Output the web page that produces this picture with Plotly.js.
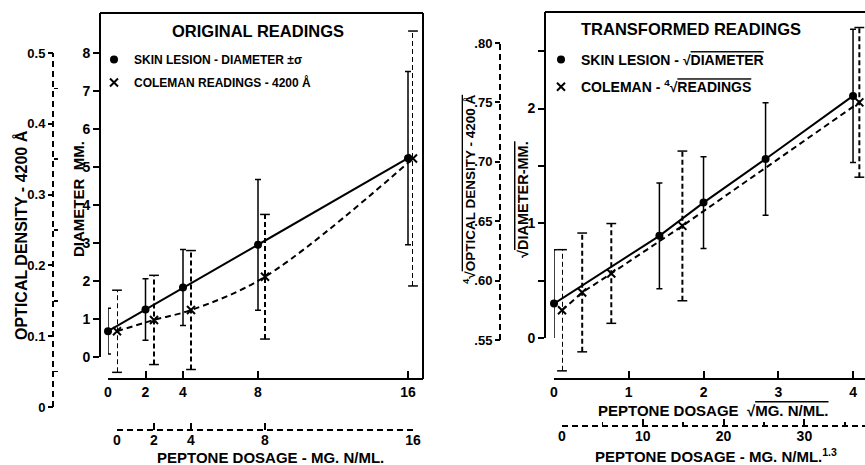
<!DOCTYPE html>
<html>
<head>
<meta charset="utf-8">
<script src="https://cdn.plot.ly/plotly-3.0.1.min.js"></script>
<style>html,body{margin:0;padding:0;background:#fff;}#chart{width:865px;height:465px;}</style>
</head>
<body>
<div id="chart"></div>
<script>
// ---------- DATA ----------
// Left panel: original readings
const doseTicks = [0, 2, 4, 8, 16];
const skinDose = [0, 2, 4, 8, 16];
const skinDiam = [0.68, 1.25, 1.83, 2.95, 5.23];
const skinDiamSd = [0.60, 0.81, 1.00, 1.72, 2.28];
const colemanDose = [0, 2, 4, 8, 16];
const colemanOD = [0.107, 0.123, 0.137, 0.184, 0.351];
const colemanODSd = [0.058, 0.063, 0.084, 0.088, 0.180];
const diamTicks = [0, 1, 2, 3, 4, 5, 6, 7, 8];
const odTicks = [0, 0.1, 0.2, 0.3, 0.4, 0.5];
const odTickText = ['0', '0.1', '0.2', '0.3', '0.4', '0.5'];
const odMinor = [0.05, 0.15, 0.25, 0.35, 0.45];

// Right panel: transformed readings
const sqrtDose = [0, 1.41, 2, 2.83, 4];
const sqrtDiam = [0.30, 0.89, 1.18, 1.56, 2.11];
const sqrtDiamSd = [0.47, 0.46, 0.40, 0.49, 0.58];
const dosePow = [0, 2.5, 6.1, 14.9, 36.8];
const rootOD = [0.575, 0.590, 0.606, 0.646, 0.750];
const rootODSd = [0.051, 0.050, 0.042, 0.063, 0.063];
const sqrtDoseTicks = [0, 1, 2, 3, 4];
const powTicks = [0, 10, 20, 30];
const powMinor = [5, 15, 25, 35];
const sqrtDiamTicks = [0, 1, 2];
const sqrtDiamMinor = [0.5, 1.5, 2.5];
const rootODTicks = [0.55, 0.60, 0.65, 0.70, 0.75, 0.80];
const rootODTickText = ['.55', '.60', '.65', '.70', '.75', '.80'];

// ---------- helpers ----------
const W = 865, H = 465;
const px = v => v / W;
const py = v => 1 - v / H;
const K = '#000';
const OL = s => '<span style="text-decoration:overline">' + s + '</span>';

function errSegments(xs, ys, es) {
  const X = [], Y = [];
  xs.forEach((x, i) => { X.push(x, x, null); Y.push(ys[i] - es[i], ys[i] + es[i], null); });
  return {X, Y};
}
const segL = errSegments(colemanDose, colemanOD, colemanODSd);
const segR = errSegments(dosePow, rootOD, rootODSd);

const dashLine = {color: K, width: 2, dash: '6px,4px'};
const errDash = {color: K, width: 2, dash: '5px,3px'};
const capMarker = {symbol: 'line-ew', size: 7, color: K, line: {width: 1.5, color: K}};
const dotMarker = {symbol: 'circle', size: 8, color: K};
const xMarker = {symbol: 'x-thin', size: 8, color: K, line: {width: 2, color: K}};
const solidErr = arr => ({type: 'data', array: arr, visible: true, color: K, thickness: 1.5, width: 3});

const traces = [
  // left: skin lesion
  {x: skinDose, y: skinDiam, mode: 'lines', line: {color: K, width: 2}, xaxis: 'x', yaxis: 'y', showlegend: false, cliponaxis: false, hoverinfo: 'skip'},
  {x: skinDose, y: skinDiam, mode: 'markers', marker: dotMarker, error_y: solidErr(skinDiamSd), xaxis: 'x', yaxis: 'y',
   name: 'SKIN LESION - DIAMETER ±σ', legend: 'legend', legendgroup: 'a', cliponaxis: false},
  // left: coleman
  {x: colemanDose, y: colemanOD, mode: 'lines', line: Object.assign({shape: 'spline', smoothing: 1}, dashLine), xaxis: 'x2', yaxis: 'y2', showlegend: false, cliponaxis: false, hoverinfo: 'skip'},
  {x: segL.X, y: segL.Y, mode: 'lines+markers', line: errDash, marker: capMarker, connectgaps: false,
   xaxis: 'x2', yaxis: 'y2', showlegend: false, cliponaxis: false, hoverinfo: 'skip'},
  {x: colemanDose, y: colemanOD, mode: 'markers', marker: xMarker, xaxis: 'x2', yaxis: 'y2',
   name: 'COLEMAN READINGS - 4200 Å', legend: 'legend', legendgroup: 'b', cliponaxis: false},
  // right: skin lesion
  {x: sqrtDose, y: sqrtDiam, mode: 'lines', line: {color: K, width: 2}, xaxis: 'x3', yaxis: 'y3', showlegend: false, cliponaxis: false, hoverinfo: 'skip'},
  {x: sqrtDose, y: sqrtDiam, mode: 'markers', marker: dotMarker, error_y: solidErr(sqrtDiamSd), xaxis: 'x3', yaxis: 'y3',
   name: 'SKIN LESION - √' + OL('DIAMETER'), legend: 'legend2', legendgroup: 'c', cliponaxis: false},
  // right: coleman
  {x: dosePow, y: rootOD, mode: 'lines', line: dashLine, xaxis: 'x4', yaxis: 'y4', showlegend: false, cliponaxis: false, hoverinfo: 'skip'},
  {x: segR.X, y: segR.Y, mode: 'lines+markers', line: errDash, marker: capMarker, connectgaps: false,
   xaxis: 'x4', yaxis: 'y4', showlegend: false, cliponaxis: false, hoverinfo: 'skip'},
  {x: dosePow, y: rootOD, mode: 'markers', marker: xMarker, xaxis: 'x4', yaxis: 'y4',
   name: 'COLEMAN - <sup>4</sup>√' + OL('READINGS'), legend: 'legend2', legendgroup: 'd', cliponaxis: false}
];

const axBase = {showgrid: false, zeroline: false, color: K, linecolor: K, tickcolor: K, tickwidth: 2, tickfont: {size: 14, color: K}, fixedrange: true};
const ax = o => Object.assign({}, axBase, o);

const layout = {
  width: W, height: H,
  margin: {l: 0, r: 0, t: 0, b: 0},
  paper_bgcolor: '#fff', plot_bgcolor: 'rgba(0,0,0,0)',
  font: {family: 'Liberation Sans, Arial, sans-serif', size: 14, color: K, weight: 700},
  showlegend: true,
  xaxis: ax({domain: [px(108), px(423)], range: [0, 16.8], anchor: 'free', position: py(379),
    showline: true, linewidth: 2, ticks: 'inside', ticklen: 7, tickvals: doseTicks}),
  yaxis: ax({domain: [py(357), py(13)], range: [0, 9.05], anchor: 'free', position: px(100),
    showline: true, linewidth: 2, ticks: 'outside', ticklen: 6, tickvals: diamTicks}),
  xaxis2: ax({domain: [px(117), px(413)], range: [0, 16], anchor: 'free', position: py(430),
    showline: false, ticks: 'inside', ticklen: 7, tickvals: doseTicks}),
  yaxis2: ax({domain: [py(421.2), py(10.5)], range: [-0.02, 0.56], anchor: 'free', position: px(53),
    showline: false, ticks: 'outside', ticklen: 5, tickvals: odTicks, ticktext: odTickText, tickfont: {size: 13, color: K},
    minor: {tickvals: odMinor, ticks: 'inside', ticklen: 4, tickwidth: 1.5, tickcolor: K}}),
  xaxis3: ax({domain: [px(554), 1], range: [0, 4.16], anchor: 'free', position: py(379),
    showline: true, linewidth: 2, ticks: 'inside', ticklen: 7, tickvals: sqrtDoseTicks}),
  yaxis3: ax({domain: [py(338), py(12)], range: [0, 2.841], anchor: 'free', position: px(545),
    showline: true, linewidth: 2, ticks: 'outside', ticklen: 6, tickvals: sqrtDiamTicks,
    minor: {tickvals: sqrtDiamMinor, ticks: 'outside', ticklen: 6, tickwidth: 2, tickcolor: K}}),
  xaxis4: ax({domain: [px(562), 1], range: [0, 37.5], anchor: 'free', position: py(426),
    showline: false, ticks: 'inside', ticklen: 7, tickvals: powTicks,
    minor: {tickvals: powMinor, ticks: 'inside', ticklen: 4, tickwidth: 1.5, tickcolor: K}}),
  yaxis4: ax({domain: [py(375.6), py(19.2)], range: [0.52, 0.82], anchor: 'free', position: px(500),
    showline: false, ticks: 'outside', ticklen: 5, tickvals: rootODTicks, ticktext: rootODTickText, tickfont: {size: 13, color: K}}),
  legend: {x: px(94), y: py(45), xanchor: 'left', yanchor: 'top', bgcolor: 'rgba(0,0,0,0)', borderwidth: 0,
    font: {size: 12, color: K, weight: 700}, tracegroupgap: 4, traceorder: 'grouped'},
  legend2: {x: px(541), y: py(44), xanchor: 'left', yanchor: 'top', bgcolor: 'rgba(0,0,0,0)', borderwidth: 0,
    font: {size: 14, color: K, weight: 700}, tracegroupgap: 6, traceorder: 'grouped'},
  shapes: [
    {type: 'line', xref: 'paper', yref: 'paper', x0: px(100), x1: px(423), y0: py(13), y1: py(13), line: {color: K, width: 2}},
    {type: 'line', xref: 'paper', yref: 'paper', x0: px(423), x1: px(423), y0: py(13), y1: py(379), line: {color: K, width: 2}},
    {type: 'line', xref: 'paper', yref: 'paper', x0: px(545), x1: 1, y0: py(12), y1: py(12), line: {color: K, width: 2}},
    {type: 'line', xref: 'paper', yref: 'y2', x0: px(53), x1: px(53), y0: odTicks[0], y1: odTicks[odTicks.length - 1], line: dashLine},
    {type: 'line', xref: 'x2', yref: 'paper', x0: doseTicks[0], x1: doseTicks[doseTicks.length - 1], y0: py(430), y1: py(430), line: dashLine},
    {type: 'line', xref: 'paper', yref: 'y4', x0: px(500), x1: px(500), y0: rootODTicks[0], y1: rootODTicks[rootODTicks.length - 1], line: dashLine},
    {type: 'line', xref: 'x4', yref: 'paper', x0: 0, x1: 37.5, y0: py(426), y1: py(426), line: dashLine}
  ],
  annotations: [
    {text: 'ORIGINAL READINGS', x: px(258), y: py(31), font: {size: 16.5}},
    {text: 'TRANSFORMED READINGS', x: px(691), y: py(29), font: {size: 16.5}},
    {text: 'DIAMETER  MM.', x: px(78), y: py(199), textangle: -90, font: {size: 15}},
    {text: 'OPTICAL DENSITY - 4200 Å', x: px(21), y: py(235), textangle: -90, font: {size: 16}},
    {text: 'PEPTONE DOSAGE - MG. N/ML.', x: px(270), y: py(457), font: {size: 15}},
    {text: 'PEPTONE DOSAGE  √' + OL('MG. N/ML.'), x: px(713), y: py(410), font: {size: 15}},
    {text: 'PEPTONE DOSAGE - MG. N/ML.<sup>1.3</sup>', x: px(716), y: py(455), font: {size: 15}},
    {text: '√' + OL('DIAMETER-MM.'), x: px(523), y: py(200), textangle: -90, font: {size: 14.5}},
    {text: '<sup>4</sup>√' + OL('OPTICAL DENSITY - 4200 Å'), x: px(469), y: py(190), textangle: -90, font: {size: 13.5}}
  ].map(a => Object.assign({xref: 'paper', yref: 'paper', showarrow: false, xanchor: 'center', yanchor: 'middle'}, a))
};

Plotly.newPlot('chart', traces, layout, {displayModeBar: false, staticPlot: true});
</script>
</body>
</html>
